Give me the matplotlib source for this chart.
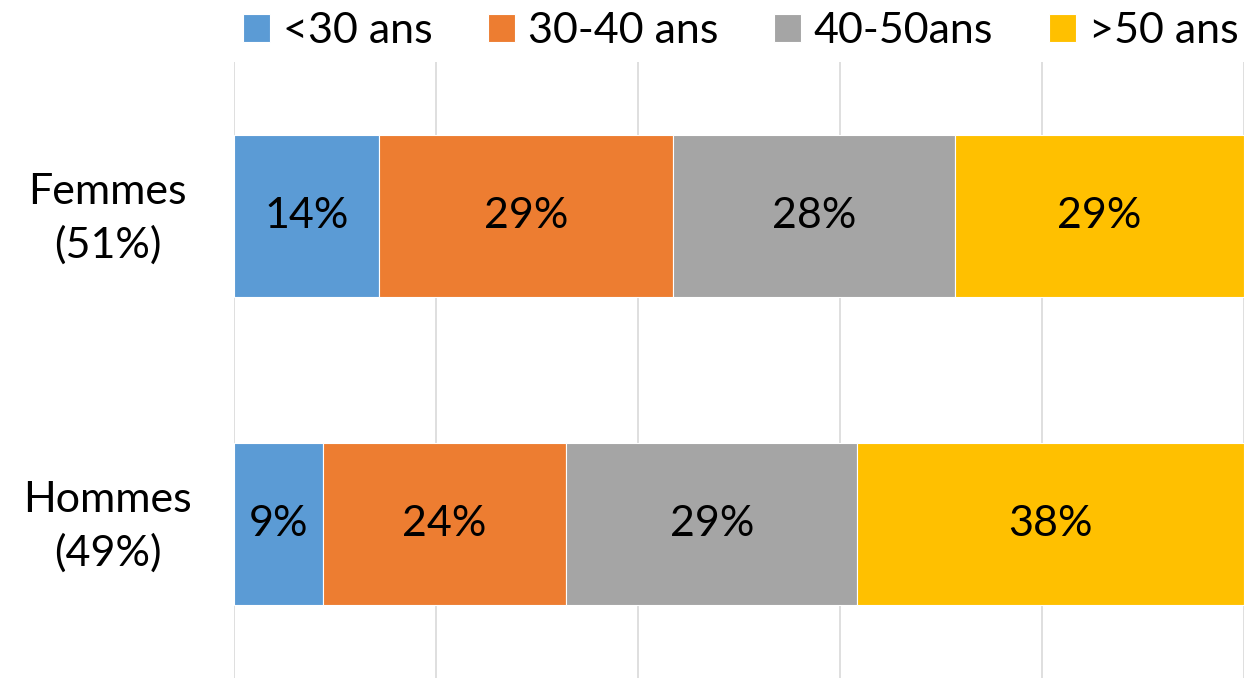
import numpy as np
import matplotlib.pyplot as plt
import matplotlib.transforms as mtransforms

plt.rcParams['font.family'] = ['Lato', 'DejaVu Sans']

groups = ['Femmes\n(51%)', 'Hommes\n(49%)']
age_classes = ['<30 ans', '30-40 ans', '40-50ans', '>50 ans']
# share of each age class per group (%)
femmes = [14.4, 29.1, 27.9, 28.6]
hommes = [8.8, 24.1, 28.8, 38.3]
colors = ['#5B9BD5', '#ED7D31', '#A5A5A5', '#FFC000']

vals = np.array([femmes, hommes])

fig = plt.figure(figsize=(12.44, 6.78), dpi=100)
ax = fig.add_axes([234/1244, 0.0, 1 - 234/1244, 1 - 62/678])

y = np.arange(len(groups))
left = np.zeros(len(groups))
for i, lab in enumerate(age_classes):
    bars = ax.barh(y, vals[:, i], left=left, height=0.526, color=colors[i],
                   edgecolor='white', linewidth=0.8, label=lab, zorder=2)
    ax.bar_label(bars, labels=['%.0f%%' % v for v in vals[:, i]],
                 label_type='center', fontsize=31, color='black')
    left += vals[:, i]

ax.set_xlim(0, 100)
ax.set_ylim(1.5, -0.5)
ax.set_xticks(np.arange(0, 101, 20))
ax.set_xticklabels([])
ax.tick_params(axis='x', length=0)
ax.tick_params(axis='y', length=0, pad=91)
ax.set_yticks(y)
ax.set_yticklabels(groups, fontsize=31, ha='center', linespacing=1.45)
# nudge the category labels up a little
shift = mtransforms.ScaledTranslation(0, 0.08, fig.dpi_scale_trans)
for t in ax.get_yticklabels():
    t.set_transform(t.get_transform() + shift)
ax.grid(axis='x', color='#d9d9d9', linewidth=1.2, zorder=0)
for s in ax.spines.values():
    s.set_visible(False)

fig.legend(loc='center left', bbox_to_anchor=(243/1244, 1 - 31/678), ncol=4,
           frameon=False, fontsize=31, handlelength=0.62, handleheight=0.62,
           handletextpad=0.3, columnspacing=1.3, borderpad=0,
           borderaxespad=0)

fig.savefig('out.png', dpi=100)
